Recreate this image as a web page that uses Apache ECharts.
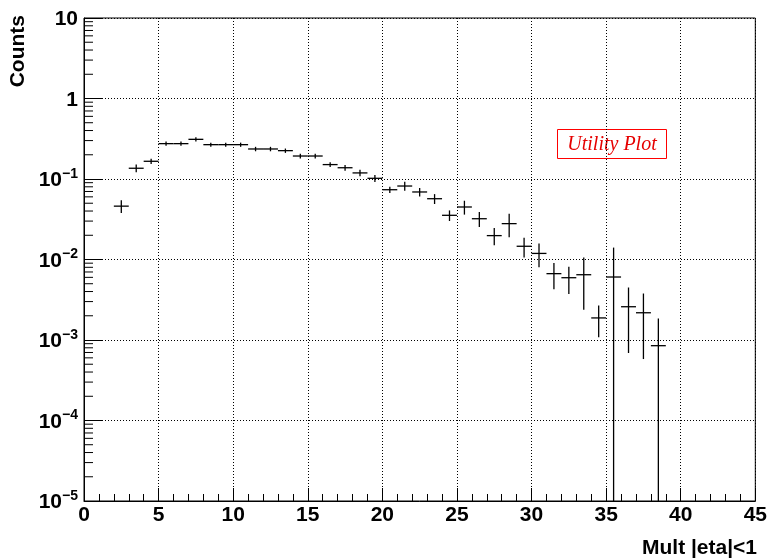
<!DOCTYPE html>
<html>
<head>
<meta charset="utf-8">
<script src="https://cdn.jsdelivr.net/npm/echarts@6/dist/echarts.min.js"></script>
<style>
html,body{margin:0;padding:0;background:#fff;}
#chart{width:770px;height:558px;}
</style>
</head>
<body>
<div id="chart"></div>
<script>
// ---- data ----
const binCenters = [2.5,3.5,4.5,5.5,6.5,7.5,8.5,9.5,10.5,11.5,12.5,13.5,14.5,15.5,16.5,17.5,18.5,19.5,20.5,21.5,22.5,23.5,24.5,25.5,26.5,27.5,28.5,29.5,30.5,31.5,32.5,33.5,34.5,35.5,36.5,37.5,38.5];
const counts = [0.046,0.136,0.166,0.275,0.275,0.311,0.267,0.267,0.267,0.236,0.236,0.225,0.193,0.193,0.151,0.138,0.119,0.102,0.0736,0.0818,0.069,0.0569,0.0354,0.0449,0.0321,0.0198,0.0279,0.0146,0.0119,0.00667,0.00594,0.00647,0.00188,0.00606,0.00259,0.00218,0.00085];
const errors = [0.0083,0.015,0.012,0.017,0.017,0.018,0.016,0.016,0.016,0.015,0.015,0.014,0.013,0.013,0.010,0.011,0.011,0.010,0.0066,0.0105,0.0085,0.008,0.0053,0.0088,0.0068,0.0048,0.009,0.004,0.0039,0.0024,0.0022,0.0041,0.0008,0.0080,0.0019,0.0016,0.0010];
const binWidth = 1;
const xTickLabels = [0,5,10,15,20,25,30,35,40,45];
const yMin = 1e-5, yMax = 10;
const xTitle = 'Mult |eta|<1';
const yTitle = 'Counts';
const boxLabel = 'Utility Plot';

// minor log ticks (2..9 x 10^k)
const minorTickVals = [];
for (let k = -5; k < 1; k++) {
  for (let m = 2; m <= 9; m++) minorTickVals.push([0, m * Math.pow(10, k)]);
}

const points = binCenters.map((x, i) => [x, counts[i], errors[i]]);
const FONT = '"Liberation Sans", Arial, Helvetica, sans-serif';

const chart = echarts.init(document.getElementById('chart'), null, {renderer: 'canvas'});
chart.setOption({
  animation: false,
  backgroundColor: '#fff',
  grid: {left: 84, right: 13, top: 18, bottom: 57, show: true, borderColor: '#000', borderWidth: 1, backgroundColor: 'transparent'},
  xAxis: {
    type: 'value', min: 0, max: 45, interval: 5,
    axisLine: {show: true, lineStyle: {color: '#000', width: 1}},
    axisTick: {show: true, inside: true, length: 13, lineStyle: {color: '#000'}},
    minorTick: {show: true, splitNumber: 5, length: 7, lineStyle: {color: '#000'}},
    splitLine: {show: true, lineStyle: {color: '#000', type: [1, 2], width: 1}},
    axisLabel: {
      color: '#000', fontSize: 21, fontWeight: 'bold', fontFamily: FONT, margin: 4,
      formatter: v => xTickLabels.includes(v) ? String(v) : ''
    }
  },
  yAxis: {
    type: 'log', logBase: 10, min: yMin, max: yMax, splitNumber: 6,
    axisLine: {show: true, lineStyle: {color: '#000', width: 1}},
    axisTick: {show: true, inside: true, length: 18, lineStyle: {color: '#000'}},
    minorTick: {show: false},
    splitLine: {show: true, lineStyle: {color: '#000', type: [1, 2], width: 1}},
    axisLabel: {
      margin: 6, color: '#000', fontFamily: FONT,
      formatter: v => {
        const k = Math.round(Math.log10(v));
        if (k === 1) return '{b|10}';
        if (k === 0) return '{b|1}';
        return '{b|10}{s|' + (k < 0 ? '\u2212' + (-k) : k) + '}';
      },
      rich: {
        b: {fontSize: 21, fontWeight: 'bold', fontFamily: FONT, color: '#000', lineHeight: 24, verticalAlign: 'bottom'},
        s: {fontSize: 14, fontWeight: 'bold', fontFamily: FONT, color: '#000', lineHeight: 24, verticalAlign: 'top'}
      }
    }
  },
  graphic: [
    {type: 'text', left: 8, top: 15, rotation: Math.PI / 2,
     style: {text: yTitle, font: 'bold 21px ' + FONT, fill: '#000'}},
    {type: 'text', right: 13, top: 538,
     style: {text: xTitle, font: 'bold 21px ' + FONT, fill: '#000'}},
    {type: 'group', left: 557, top: 129, children: [
      {type: 'rect', shape: {x: 0, y: 0, width: 109, height: 29}, style: {fill: '#fff', stroke: '#ff0000', lineWidth: 1}},
      {type: 'text', x: 54.5, y: 15, style: {text: boxLabel, font: 'italic 20px "Liberation Serif", "Times New Roman", serif', fill: '#e60000', textAlign: 'center', textVerticalAlign: 'middle'}}
    ]}
  ],
  series: [
    {
      type: 'custom', name: 'minorTicks', silent: true, clip: true,
      data: minorTickVals,
      renderItem: (params, api) => {
        const p = api.coord([0, api.value(1)]);
        return {type: 'line', shape: {x1: p[0], y1: p[1], x2: p[0] + 9, y2: p[1]}, style: {stroke: '#000', lineWidth: 1}};
      }
    },
    {
      type: 'custom', name: 'hist', clip: true,
      data: points,
      renderItem: (params, api) => {
        const x = api.value(0), y = api.value(1), e = api.value(2);
        const c = api.coord([x, y]);
        const l = api.coord([x - binWidth / 2, y]);
        const r = api.coord([x + binWidth / 2, y]);
        const t = api.coord([x, Math.min(y + e, yMax)]);
        const lowV = y - e;
        const b = api.coord([x, lowV > yMin ? lowV : yMin]);
        const st = {stroke: '#000', lineWidth: 1.3};
        return {type: 'group', children: [
          {type: 'line', shape: {x1: l[0], y1: c[1], x2: r[0], y2: c[1]}, style: st},
          {type: 'line', shape: {x1: c[0], y1: t[1], x2: c[0], y2: b[1]}, style: st}
        ]};
      }
    }
  ]
});
</script>
</body>
</html>
